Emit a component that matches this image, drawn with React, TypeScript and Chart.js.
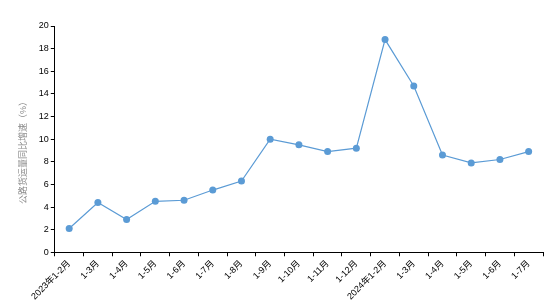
import React, { useEffect, useRef } from "react";
import { Chart, registerables } from "chart.js";

Chart.register(...registerables);

const categories = [
  "2023年1-2月", "1-3月", "1-4月", "1-5月", "1-6月", "1-7月", "1-8月", "1-9月",
  "1-10月", "1-11月", "1-12月", "2024年1-2月", "1-3月", "1-4月", "1-5月", "1-6月", "1-7月",
];
const growthValues = [2.1, 4.4, 2.9, 4.5, 4.6, 5.5, 6.3, 10.0, 9.5, 8.9, 9.2, 18.8, 14.7, 8.6, 7.9, 8.2, 8.9];
const yTicks = { min: 0, max: 20, step: 2 };
const yTitle = "公路货运量同比增速（%）";

export default function App() {
  const ref = useRef<HTMLCanvasElement>(null);
  useEffect(() => {
    document.body.style.margin = "0";
    const font = { family: "'Liberation Sans', 'Noto Sans CJK SC', sans-serif", size: 9 };
    const chart = new Chart(ref.current!, {
      type: "line",
      data: {
        labels: categories,
        datasets: [
          {
            data: growthValues,
            borderColor: "#5b9bd5",
            backgroundColor: "#5b9bd5",
            borderWidth: 1.2,
            pointRadius: 3.5,
            pointHoverRadius: 3.5,
            pointBorderWidth: 0,
            tension: 0,
          },
        ],
      },
      options: {
        animation: false,
        responsive: false,
        layout: { padding: { top: 26, right: 11, left: 10, bottom: 3 } },
        plugins: { legend: { display: false }, tooltip: { enabled: false } },
        scales: {
          x: {
            offset: true,
            grid: { drawOnChartArea: false, drawTicks: true, tickLength: 4, color: "#000", offset: true },
            border: { display: true, color: "#000", width: 1 },
            ticks: { color: "#000", font, minRotation: 45, maxRotation: 45, autoSkip: false, padding: 2 },
          },
          y: {
            min: yTicks.min,
            max: yTicks.max,
            grid: { drawOnChartArea: false, drawTicks: true, tickLength: 4, color: "#000" },
            border: { display: true, color: "#000", width: 1 },
            ticks: { color: "#000", font, stepSize: yTicks.step, padding: 2 },
            title: { display: true, text: yTitle + "\u3000\u3000\u3000", color: "#8c8c8c", font, padding: 8 },
          },
        },
      },
    });
    return () => chart.destroy();
  }, []);
  return <canvas ref={ref} width={554} height={307} style={{ display: "block" }} />;
}
